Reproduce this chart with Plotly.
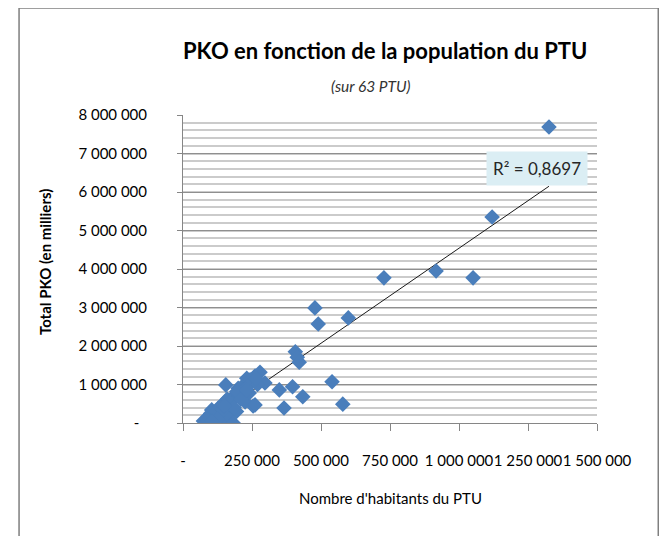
import numpy as np
import plotly.graph_objects as go

# Population of each PTU (inhabitants) and total PKO (thousands)
population = [
    1326000, 1120000, 917000, 728000, 1051000, 478000, 490000, 599000,
    407000, 414000, 421000, 540000, 397000, 349000, 434000, 366000,
    579000, 155000, 297000,
    74000, 92000, 104000, 110000, 116000, 128000, 140000, 152000, 164000,
    170000, 182000, 188000, 194000, 200000, 213000, 225000, 231000, 249000,
    254000, 261000, 243000, 279000, 261000, 217000, 100000, 120000, 135000,
    145000, 160000, 175000, 185000, 205000, 220000, 235000, 240000, 85000,
    125000, 150000, 195000, 270000, 210000, 230000, 105000, 265000,
]
pko = [
    7690000, 5350000, 3950000, 3770000, 3770000, 2990000, 2570000, 2730000,
    1850000, 1710000, 1580000, 1070000, 940000, 860000, 680000, 390000,
    490000, 990000, 1040000,
    50000, 160000, 340000, 0, 200000, 390000, 30000, 550000, 200000,
    470000, 0, 730000, 300000, 900000, 940000, 550000, 1160000, 1070000,
    440000, 1220000, 1120000, 1320000, 470000, 860000, 250000, 300000, 420000,
    350000, 620000, 580000, 400000, 700000, 720000, 950000, 780000, 100000,
    100000, 450000, 820000, 1000000, 620000, 850000, 50000, 1150000,
]

x_ticks = [0, 250000, 500000, 750000, 1000000, 1250000, 1500000]
x_tick_text = ["-", "250 000", "500 000", "750 000", "1 000 000", "1 250 000", "1 500 000"]
y_ticks = [0, 1000000, 2000000, 3000000, 4000000, 5000000, 6000000, 7000000, 8000000]
y_tick_text = ["-  ", "1 000 000", "2 000 000", "3 000 000", "4 000 000",
               "5 000 000", "6 000 000", "7 000 000", "8 000 000"]

r2_label = "R² = 0,8697"

# Linear trend line (least squares), as Excel draws it
slope, intercept = np.polyfit(population, pko, 1)
trend_x = [min(population), max(population)]
trend_y = [slope * v + intercept for v in trend_x]

FONT = "Lato"
TXT = "#000000"

fig = go.Figure()
fig.add_trace(go.Scatter(
    x=trend_x, y=trend_y, mode="lines",
    line=dict(color="#1a1a1a", width=1), hoverinfo="skip", showlegend=False,
))
fig.add_trace(go.Scatter(
    x=population, y=pko, mode="markers",
    marker=dict(symbol="diamond", size=12, color="#4a7ebb"),
    showlegend=False,
))

fig.update_layout(
    width=667, height=536,
    margin=dict(l=175, r=78, t=107, b=121, autoexpand=False),
    paper_bgcolor="white", plot_bgcolor="white",
    font=dict(family=FONT, color=TXT, size=15),
    showlegend=False,
    xaxis=dict(
        range=[0, 1500000], tickvals=x_ticks, ticktext=x_tick_text,
        showgrid=False, zeroline=False, automargin=False,
        showline=True, linecolor="#868686", linewidth=1,
        ticks="outside", ticklen=7, tickcolor="#868686",
        tickangle=0, ticklabelstandoff=17,
        tickfont=dict(size=15, family=FONT),
    ),
    yaxis=dict(
        range=[0, 8000000], tickvals=y_ticks, ticktext=y_tick_text,
        showgrid=True, gridcolor="#8f8f8f", gridwidth=1, zeroline=False,
        automargin=False,
        showline=True, linecolor="#868686", linewidth=1,
        ticks="outside", ticklen=5, tickcolor="#868686",
        ticklabelstandoff=27,
        tickfont=dict(size=15, family=FONT),
        minor=dict(dtick=200000, tick0=0, showgrid=True, gridcolor="#cbcbcb", gridwidth=1.5, ticks=""),
    ),
)

fig.add_shape(type="rect", xref="paper", yref="paper",
              x0=-0.396, x1=1.148, y0=-0.39, y1=1.347,
              line=dict(color="#7f7f7f", width=1.5), fillcolor="rgba(0,0,0,0)", layer="below")

fig.add_annotation(text="<b>PKO en fonction de la population du PTU</b>",
                   xref="paper", yref="paper", x=0.488, y=1.211,
                   xanchor="center", yanchor="middle", showarrow=False,
                   font=dict(size=22, family=FONT, color=TXT))
fig.add_annotation(text="<i>(sur 63 PTU)</i>",
                   xref="paper", yref="paper", x=0.454, y=1.095,
                   xanchor="center", yanchor="middle", showarrow=False,
                   font=dict(size=15.5, family=FONT, color="#333333"))
fig.add_annotation(text="<b>Total PKO (en milliers)</b>",
                   xref="paper", yref="paper", x=-0.333, y=0.523, textangle=-90,
                   xanchor="center", yanchor="middle", showarrow=False,
                   font=dict(size=15, family=FONT, color=TXT))
fig.add_annotation(text="Nombre d'habitants du PTU",
                   xref="paper", yref="paper", x=0.502, y=-0.245,
                   xanchor="center", yanchor="middle", showarrow=False,
                   font=dict(size=15, family=FONT, color=TXT))
fig.add_annotation(text=r2_label, xref="x", yref="y", x=1282000, y=6620000,
                   xanchor="center", yanchor="middle", showarrow=False,
                   bgcolor="#dbeef4", borderpad=6,
                   font=dict(size=17, family=FONT, color="#262626"))

fig.write_html("out.html")
